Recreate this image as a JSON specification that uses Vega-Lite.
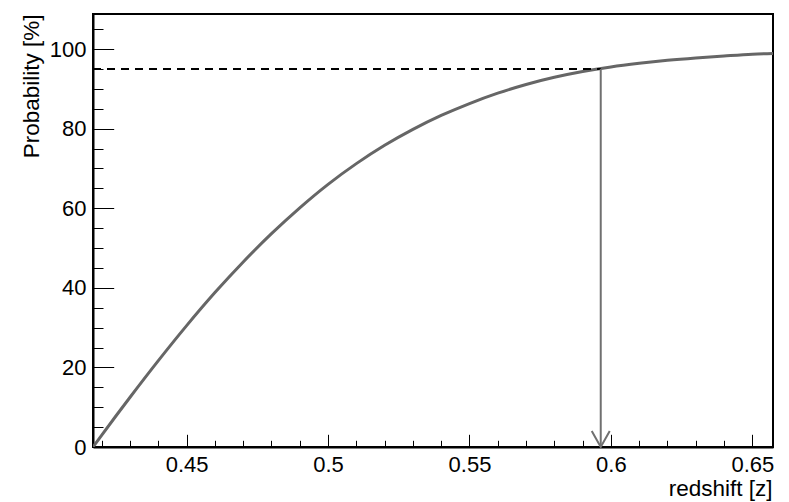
{
  "$schema": "https://vega.github.io/schema/vega-lite/v6.json",
  "width": 680,
  "height": 433,
  "autosize": "none",
  "padding": {"left": 93, "top": 14, "right": 16, "bottom": 55},
  "background": "white",
  "config": {
    "view": {"stroke": "black", "strokeWidth": 2},
    "font": "Liberation Sans",
    "axis": {"grid": false, "tickColor": "black", "tickWidth": 1, "domainColor": "black", "domainWidth": 2, "labelColor": "black", "titleColor": "black"}
  },
  "datasets": {
    "curve": [
      {"z": 0.4169, "p": 0},
      {"z": 0.42, "p": 3.0},
      {"z": 0.43, "p": 12.5},
      {"z": 0.44, "p": 21.7},
      {"z": 0.45, "p": 30.5},
      {"z": 0.46, "p": 38.8},
      {"z": 0.47, "p": 46.5},
      {"z": 0.48, "p": 53.6},
      {"z": 0.49, "p": 60.1},
      {"z": 0.5, "p": 66.0},
      {"z": 0.51, "p": 71.2},
      {"z": 0.52, "p": 75.8},
      {"z": 0.53, "p": 79.8},
      {"z": 0.54, "p": 83.3},
      {"z": 0.55, "p": 86.3},
      {"z": 0.56, "p": 88.9},
      {"z": 0.57, "p": 91.1},
      {"z": 0.58, "p": 92.9},
      {"z": 0.59, "p": 94.35},
      {"z": 0.6, "p": 95.5},
      {"z": 0.61, "p": 96.4},
      {"z": 0.62, "p": 97.15},
      {"z": 0.63, "p": 97.75},
      {"z": 0.64, "p": 98.25},
      {"z": 0.65, "p": 98.7},
      {"z": 0.6573, "p": 98.9}
    ],
    "marker": [
      {"z0": 0.4169, "z": 0.5964, "p": 95, "p0": 0}
    ]
  },
  "resolve": {"axis": {"x": "independent", "y": "independent"}},
  "layer": [
    {
      "data": {"name": "curve"},
      "mark": {"type": "line", "color": "#666666", "strokeWidth": 3, "interpolate": "monotone", "clip": true},
      "encoding": {
        "x": {
          "field": "z", "type": "quantitative",
          "scale": {"domain": [0.4169, 0.6573], "nice": false, "zero": false},
          "axis": {
            "orient": "bottom",
            "title": "redshift [z]",
            "values": [0.45, 0.5, 0.55, 0.6, 0.65],
            "labelExpr": "toString(datum.value)",
            "labelOverlap": false,
            "labelFlush": false,
            "labelFontSize": 22,
            "labelPadding": 7.5,
            "labelBaseline": "top",
            "ticks": false,
            "titleFontSize": 22.5,
            "titleFontWeight": "normal",
            "titleAnchor": "end",
            "titleAlign": "right",
            "titleBaseline": "alphabetic",
            "titleX": 679,
            "titleY": 48,
            "encode": {
              "labels": {"update": {"dx": {"signal": "datum.value == 0.65 ? -5 : 0"}}}
            }
          }
        },
        "y": {
          "field": "p", "type": "quantitative",
          "scale": {"domain": [0, 108.8], "nice": false, "zero": false},
          "axis": {
            "orient": "left",
            "title": "Probability [%]",
            "values": [0, 20, 40, 60, 80, 100],
            "labelOverlap": false,
            "labelFlush": false,
            "labelFontSize": 22,
            "labelPadding": 7,
            "labelBaseline": "middle",
            "ticks": false,
            "titleFontSize": 22.5,
            "titleFontWeight": "normal",
            "titleAnchor": "end",
            "titleAlign": "right",
            "titleAngle": -90,
            "titleBaseline": "alphabetic",
            "titleX": -55,
            "titleY": 0
          }
        }
      }
    },
    {
      "data": {"name": "marker"},
      "mark": {"type": "rule", "color": "black", "strokeWidth": 2, "strokeDash": [8, 6]},
      "encoding": {
        "x": {
          "field": "z0", "type": "quantitative",
          "axis": {"orient": "bottom", "values": [0.45, 0.5, 0.55, 0.6, 0.65], "tickSize": -12.7, "labels": false, "domain": false, "title": null}
        },
        "x2": {"field": "z"},
        "y": {
          "field": "p", "type": "quantitative",
          "axis": {"orient": "left", "values": [0, 20, 40, 60, 80, 100], "tickSize": -20.7, "labels": false, "domain": false, "title": null}
        }
      }
    },
    {
      "data": {"name": "marker"},
      "mark": {"type": "rule", "color": "#707070", "strokeWidth": 2},
      "encoding": {
        "x": {
          "field": "z", "type": "quantitative",
          "axis": {"orient": "bottom", "values": [0.42, 0.43, 0.44, 0.46, 0.47, 0.48, 0.49, 0.51, 0.52, 0.53, 0.54, 0.56, 0.57, 0.58, 0.59, 0.61, 0.62, 0.63, 0.64], "tickSize": -6.7, "labels": false, "domain": false, "title": null}
        },
        "y": {
          "field": "p", "type": "quantitative",
          "axis": {"orient": "left", "values": [5, 10, 15, 25, 30, 35, 45, 50, 55, 65, 70, 75, 85, 90, 95, 105], "tickSize": -10, "labels": false, "domain": false, "title": null}
        },
        "y2": {"field": "p0"}
      }
    },
    {
      "data": {"name": "marker"},
      "mark": {"type": "point", "shape": "M-1,-1.78L0,0L1,-1.78", "size": 324, "filled": false, "stroke": "#707070", "strokeWidth": 2, "opacity": 1},
      "encoding": {
        "x": {"field": "z", "type": "quantitative", "axis": null},
        "y": {"field": "p0", "type": "quantitative", "axis": null}
      }
    }
  ]
}
